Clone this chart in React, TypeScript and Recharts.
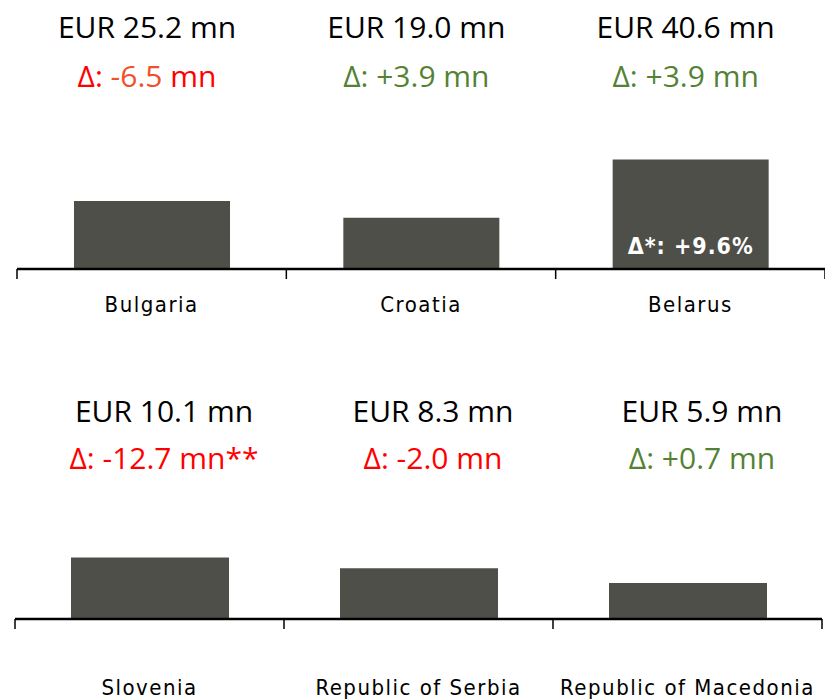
import React from 'react';
import { BarChart, Bar, XAxis, YAxis, LabelList } from 'recharts';

const topCountries = ['Bulgaria', 'Croatia', 'Belarus'];
const topValues = [25.2, 19.0, 40.6];
const topDeltas = ['-6.5', '+3.9', '+3.9'];
const topSuffixes = ['', '', ''];
const topNotes = ['', '', 'Δ*: +9.6%'];

const bottomCountries = ['Slovenia', 'Republic of Serbia', 'Republic of Macedonia'];
const bottomValues = [10.1, 8.3, 5.9];
const bottomDeltas = ['-12.7', '-2.0', '+0.7'];
const bottomSuffixes = ['**', '', ''];
const bottomNotes = ['', '', ''];

const BAR = '#4f4f49';
const RED = '#ff0000';
const GREEN = '#548235';
const TITLE_FONT = '"Open Sans", "Noto Sans", sans-serif';
const LABEL_FONT = '"DejaVu Sans Condensed", "DejaVu Sans", sans-serif';

interface PanelProps {
  countries: string[];
  values: number[];
  deltas: string[];
  suffixes: string[];
  notes: string[];
  height: number;
  left: number;
  right: number;
  top: number;
  axisHeight: number;
  yMax: number;
  barSize: number;
  titleY: number;
  deltaY: number;
  titleDx: number;
  labelDy: number;
}

function Panel(p: PanelProps) {
  const data = p.countries.map((c, i) => ({
    country: c,
    value: p.values[i],
    delta: p.deltas[i],
    suffix: p.suffixes[i],
    note: p.notes[i],
  }));
  const band = (825 - p.left - p.right) / data.length;

  const renderTick = (props: any) => {
    const { x, y, payload } = props;
    const idx = payload.index ?? props.index ?? 0;
    return (
      <g>
        <line x1={x - band / 2} x2={x - band / 2} y1={y} y2={y + 10} stroke="#000" strokeWidth={1.5} />
        {idx === data.length - 1 && (
          <line x1={x + band / 2} x2={x + band / 2} y1={y} y2={y + 10} stroke="#000" strokeWidth={1.5} />
        )}
        <text
          x={x}
          y={y + p.labelDy}
          textAnchor="middle"
          fill="#000"
          fontFamily={LABEL_FONT}
          fontSize={22}
          letterSpacing={1.5}
        >
          {payload.value}
        </text>
      </g>
    );
  };

  const renderTitle = (props: any) => {
    const { x, width, index } = props;
    const d = data[index];
    const cx = x + width / 2 + p.titleDx;
    const color = d.delta.startsWith('-') ? RED : GREEN;
    const numColor = index === 0 && p.suffixes === topSuffixes ? '#f0502a' : color;
    return (
      <g fontFamily={TITLE_FONT} fontSize={30}>
        <text x={cx} y={p.titleY} textAnchor="middle" fill="#000">
          {`EUR ${d.value.toFixed(1)} mn`}
        </text>
        <text x={cx} y={p.deltaY} textAnchor="middle" fill={color}>
          <tspan>{'Δ: '}</tspan>
          <tspan fill={numColor}>{d.delta}</tspan>
          <tspan>{` mn${d.suffix}`}</tspan>
        </text>
      </g>
    );
  };

  const renderNote = (props: any) => {
    const { x, y, width, height, index } = props;
    const note = data[index].note;
    if (!note) return null;
    return (
      <text
        x={x + width / 2}
        y={y + height - 15}
        textAnchor="middle"
        fill="#fff"
        fontFamily={LABEL_FONT}
        fontWeight="bold"
        fontSize={23}
        letterSpacing={1}
      >
        {note}
      </text>
    );
  };

  return (
    <BarChart
      width={825}
      height={p.height}
      data={data}
      margin={{ top: p.top, right: p.right, left: p.left, bottom: 0 }}
    >
      <YAxis hide domain={[0, p.yMax]} />
      <XAxis
        dataKey="country"
        height={p.axisHeight}
        axisLine={{ stroke: '#000', strokeWidth: 2.5 }}
        tickLine={false}
        tickSize={0}
        tickMargin={0}
        interval={0}
        tick={renderTick}
      />
      <Bar dataKey="value" fill={BAR} barSize={p.barSize} isAnimationActive={false}>
        <LabelList dataKey="value" content={renderTitle} />
        <LabelList dataKey="note" content={renderNote} />
      </Bar>
    </BarChart>
  );
}

export default function App() {
  return (
    <div style={{ position: 'absolute', left: 0, top: 0, width: 825, height: 699, background: '#fff' }}>
      <Panel
        countries={topCountries}
        values={topValues}
        deltas={topDeltas}
        suffixes={topSuffixes}
        notes={topNotes}
        height={350}
        left={17}
        right={0}
        top={134}
        axisHeight={81}
        yMax={50}
        barSize={156}
        titleY={38}
        deltaY={87}
        titleDx={-5}
        labelDy={43}
      />
      <Panel
        countries={bottomCountries}
        values={bottomValues}
        deltas={bottomDeltas}
        suffixes={bottomSuffixes}
        notes={bottomNotes}
        height={349}
        left={15}
        right={3}
        top={147}
        axisHeight={80}
        yMax={20}
        barSize={158}
        titleY={72}
        deltaY={119}
        titleDx={14}
        labelDy={76}
      />
    </div>
  );
}
